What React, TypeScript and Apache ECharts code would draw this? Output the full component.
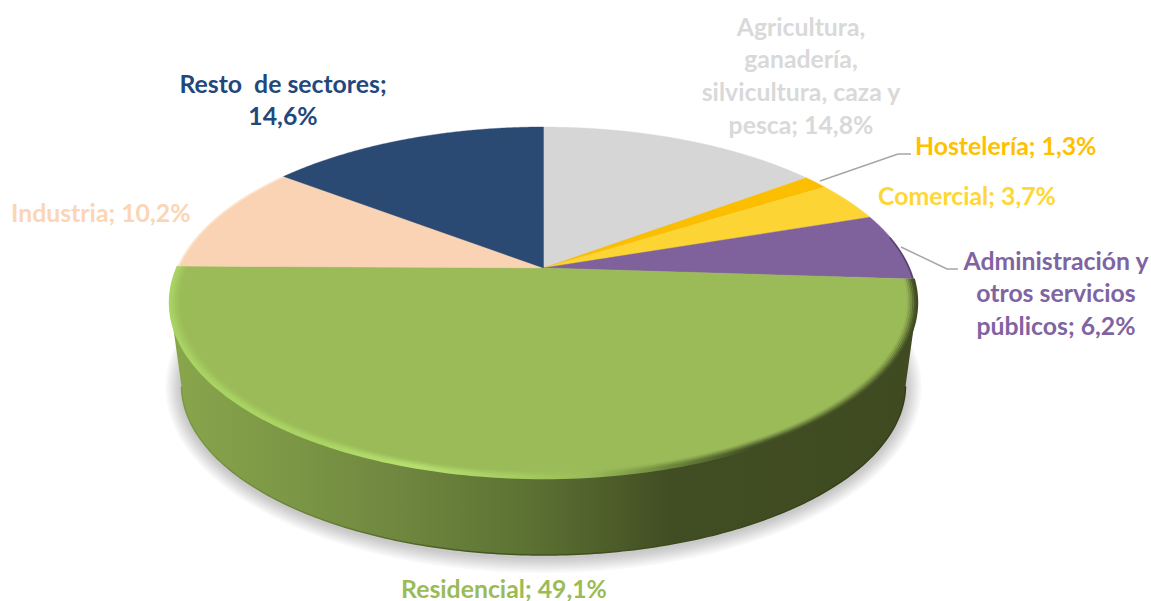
import React, { useEffect, useRef } from "react";
import * as echarts from "echarts";

const categories = [
  "Agricultura,\nganadería,\nsilvicultura, caza y\npesca",
  "Hostelería",
  "Comercial",
  "Administración y\notros servicios\npúblicos",
  "Residencial",
  "Industria",
  "Resto  de sectores",
];
const shares = [14.8, 1.3, 3.7, 6.2, 49.1, 10.2, 14.6];
const valueSeparators = ["; ", "; ", "; ", "; ", "; ", "; ", ";\n"];
const sliceColors = ["#D6D6D6", "#FBBE00", "#FCD535", "#7F619B", "#9BBB59", "#FAD3B4", "#2A4A73"];
const labelColors = ["#D9D9D9", "#FFC000", "#FFD633", "#8064A2", "#9BBB59", "#FBD5B5", "#1F497D"];
// label anchor: [x, y of first line centre, align]
const labelAnchors: [number, number, string][] = [
  [801, 26, "center"],
  [915, 145, "left"],
  [878, 195, "left"],
  [1056, 260, "center"],
  [504, 588, "center"],
  [11, 212, "left"],
  [283, 83, "center"],
];
const leaderLines: Record<number, number[][]> = {
  1: [[820, 181], [898, 154], [911, 154]],
  3: [[901, 247], [947, 269], [958, 269]],
};
// thin shaded edge along a slice's outer arc: [from fraction of arc, colour, opacity]
const edgeShades: Record<number, [number, string, number]> = {
  3: [0.35, "#41335A", 0.65],
  5: [0, "#FEE6CE", 0.9],
};

const CX = 543.5, CY = 302.5, RX = 373.5, RY = 175.5, TILT = 0.197;
const BCY = 385, BRX = 362, BRY = 170;
const FONT = "Lato";
const FONT_SIZE = 24.8;
const LINE_H = 32.7;
const GLOW_LAYERS = [16, 14, 12, 10, 8, 6, 4, 2];

const total = shares.reduce((a, b) => a + b, 0);
const bounds = (i: number): [number, number] => {
  let s = 0;
  for (let k = 0; k < i; k++) s += shares[k];
  return [(s / total) * Math.PI * 2, ((s + shares[i]) / total) * Math.PI * 2];
};
const disk = (th: number, r = 1): [number, number] => {
  const u = r * Math.sin(th), v = r * Math.cos(th);
  const w = 1 + TILT * v;
  return [(u * Math.sqrt(1 - TILT * TILT)) / w, (v + TILT) / w];
};
const top = (th: number, r = 1): number[] => {
  const [a, b] = disk(th, r);
  return [CX + a * RX, CY - b * RY];
};
const bottom = (th: number): number[] => {
  const [a, b] = disk(th);
  return [CX + a * BRX, BCY - b * BRY];
};
const sweep = (i: number, n = 160): number[] => {
  const [a, b] = bounds(i);
  const out: number[] = [];
  for (let k = 0; k <= n; k++) out.push(a + ((b - a) * k) / n);
  return out;
};
const frontSweep = (i: number): number[] => sweep(i, 240).filter((th) => disk(th)[1] <= 0);

const grad = (stops: [number, string][]) =>
  new echarts.graphic.LinearGradient(0, 0, 1, 0, stops.map(([offset, color]) => ({ offset, color })));

const wallStops: [number, string][] = [
  [0, "#89A64C"],
  [0.17, "#7B9645"],
  [0.33, "#6D843E"],
  [0.47, "#5D7333"],
  [0.58, "#4F5F2B"],
  [0.67, "#414D23"],
  [1, "#3F4A20"],
];
const rimStops: [number, string][] = [
  [0, "#A9D363"],
  [0.2, "#AAD564"],
  [0.33, "#B6E070"],
  [0.47, "#A6CB60"],
  [0.56, "#9BBB59"],
  [0.66, "#6F8A3E"],
  [0.78, "#414D23"],
  [1, "#3F4A20"],
];
const rimLayers = [1, 0.85, 0.6, 0.4, 0.22, 0.1];

const renderWall = (params: any) => {
  const ths = frontSweep(params.dataIndex);
  if (ths.length < 2) return { type: "group", children: [] };
  const pts = [...ths.map((t) => top(t)), ...ths.slice().reverse().map((t) => bottom(t))];
  return {
    type: "group",
    children: [
      ...GLOW_LAYERS.map((e) => ({
        type: "ellipse",
        shape: { cx: CX, cy: BCY + 2, rx: BRX + e, ry: BRY + e },
        style: { fill: "#000000", opacity: 0.028 },
        silent: true,
      })),
      {
        type: "polygon",
        shape: { points: pts },
        style: { fill: grad(wallStops) },
        silent: true,
      },
      {
        type: "polyline",
        shape: { points: ths.map((t) => bottom(t)) },
        style: {
          fill: "none",
          lineWidth: 1.5,
          stroke: grad([[0, "#7B9645"], [0.2, "#667F39"], [0.4, "#46581F"], [1, "#333D18"]]),
        },
        silent: true,
      },
    ],
  };
};

const renderFace = (params: any) => {
  const i = params.dataIndex;
  const color = sliceColors[i];
  const ths = sweep(i);
  const children: any[] = [
    {
      type: "polygon",
      shape: { points: [top(0, 0), ...ths.map((t) => top(t))] },
      style: { fill: color, stroke: color, lineWidth: 0.4 },
      silent: true,
    },
  ];
  const front = frontSweep(i);
  if (front.length > 1) {
    rimLayers.forEach((opacity, k) => {
      children.push({
        type: "polyline",
        shape: { points: ths.map((t) => top(t, 1 - 0.0045 * k)) },
        style: { fill: "none", stroke: grad(rimStops), lineWidth: 2.4, opacity },
        silent: true,
      });
    });
  }
  const shade = edgeShades[i];
  if (shade) {
    const from = Math.floor(ths.length * shade[0]);
    children.push({
      type: "polyline",
      shape: { points: ths.slice(from).map((t) => top(t, 0.998)) },
      style: { fill: "none", stroke: shade[1], lineWidth: 1.6, opacity: shade[2] },
      silent: true,
    });
  }
  return { type: "group", children };
};

const renderLabel = (params: any) => {
  const i = params.dataIndex;
  const [x, y, align] = labelAnchors[i];
  const text = `${categories[i]}${valueSeparators[i]}${shares[i].toFixed(1).replace(".", ",")}%`;
  const children: any[] = [
    {
      type: "text",
      style: {
        text,
        x,
        y: y - LINE_H / 2,
        fill: labelColors[i],
        fontFamily: FONT,
        fontSize: FONT_SIZE,
        fontWeight: "bold",
        align,
        verticalAlign: "top",
        lineHeight: LINE_H,
      },
      silent: true,
    },
  ];
  if (leaderLines[i]) {
    children.push({
      type: "polyline",
      shape: { points: leaderLines[i] },
      style: { fill: "none", stroke: "#A6A6A6", lineWidth: 1.5 },
      silent: true,
    });
  }
  return { type: "group", children };
};

const sliceData = categories.map((name, i) => ({ name, value: shares[i] }));

export default function App() {
  const ref = useRef<HTMLDivElement>(null);
  useEffect(() => {
    document.body.style.margin = "0";
    document.body.style.background = "#fff";
    const chart = echarts.init(ref.current!, undefined, { renderer: "svg" });
    chart.setOption({
      animation: false,
      backgroundColor: "#ffffff",
      series: [
        { type: "custom", coordinateSystem: "none", renderItem: renderWall, data: sliceData, z: 1, silent: true },
        { type: "custom", coordinateSystem: "none", renderItem: renderFace, data: sliceData, z: 2, silent: true },
        { type: "custom", coordinateSystem: "none", renderItem: renderLabel, data: sliceData, z: 3, silent: true },
      ],
    });
    return () => chart.dispose();
  }, []);
  return <div ref={ref} style={{ width: 1151, height: 601 }} />;
}
